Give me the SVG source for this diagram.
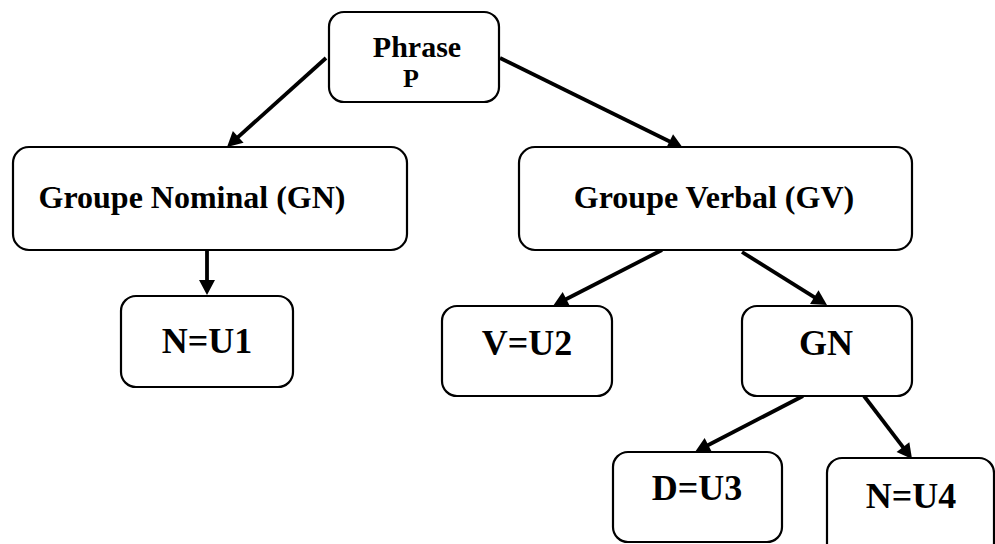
<svg xmlns="http://www.w3.org/2000/svg" width="995" height="544" viewBox="0 0 995 544">
  <style>
    .box { fill: #ffffff; stroke: #000000; stroke-width: 2.2; }
    .lbl { font-family: "Liberation Serif", "Times New Roman", serif; font-weight: bold; fill: #000000; text-anchor: middle; }
    .big { font-size: 32px; }
    .unit { font-size: 36px; }
    .edge { stroke: #000000; stroke-width: 3.8; fill: none; marker-end: url(#arrow); }
  </style>
  <defs>
    <marker id="arrow" markerUnits="userSpaceOnUse" markerWidth="15" markerHeight="16" refX="7" refY="8" orient="auto" overflow="visible">
      <path d="M0,0 L15,8 L0,16 z" fill="#000000"/>
    </marker>
  </defs>
  <rect width="995" height="544" fill="#ffffff"/>

  <!-- connectors -->
  <g id="connectors">
    <line class="edge" x1="326" y1="58" x2="233" y2="141.6"/>
    <line class="edge" x1="500" y1="58" x2="675.8" y2="144.5"/>
    <line class="edge" x1="207" y1="250" x2="207" y2="287"/>
    <line class="edge" x1="662" y1="250" x2="560.1" y2="302.3"/>
    <line class="edge" x1="742" y1="252" x2="820.2" y2="300.8"/>
    <line class="edge" x1="803" y1="396" x2="702.1" y2="448.3"/>
    <line class="edge" x1="864" y1="396" x2="907.2" y2="452.6"/>
  </g>

  <!-- nodes -->
  <g id="phrase">
    <rect class="box" x="329" y="12" width="170" height="90" rx="15"/>
    <text class="lbl" x="417" y="57" font-size="30">Phrase</text>
    <text class="lbl" x="411" y="87" font-size="26">P</text>
  </g>
  <g id="groupe-nominal">
    <rect class="box" x="13" y="147" width="394" height="103" rx="16"/>
    <text class="lbl big" x="192" y="208">Groupe Nominal (GN)</text>
  </g>
  <g id="groupe-verbal">
    <rect class="box" x="519" y="147" width="393" height="103" rx="16"/>
    <text class="lbl big" x="714" y="208">Groupe Verbal (GV)</text>
  </g>
  <g id="n-u1">
    <rect class="box" x="121" y="296" width="172" height="91" rx="15"/>
    <text class="lbl unit" x="207" y="353">N=U1</text>
  </g>
  <g id="v-u2">
    <rect class="box" x="442" y="306" width="170" height="90" rx="15"/>
    <text class="lbl unit" x="527" y="355">V=U2</text>
  </g>
  <g id="gn">
    <rect class="box" x="742" y="306" width="170" height="90" rx="15"/>
    <text class="lbl unit" x="826" y="355">GN</text>
  </g>
  <g id="d-u3">
    <rect class="box" x="613" y="452" width="169" height="90" rx="15"/>
    <text class="lbl unit" x="697" y="500">D=U3</text>
  </g>
  <g id="n-u4">
    <rect class="box" x="827" y="458" width="167" height="100" rx="15"/>
    <text class="lbl unit" x="911" y="508">N=U4</text>
  </g>
</svg>
